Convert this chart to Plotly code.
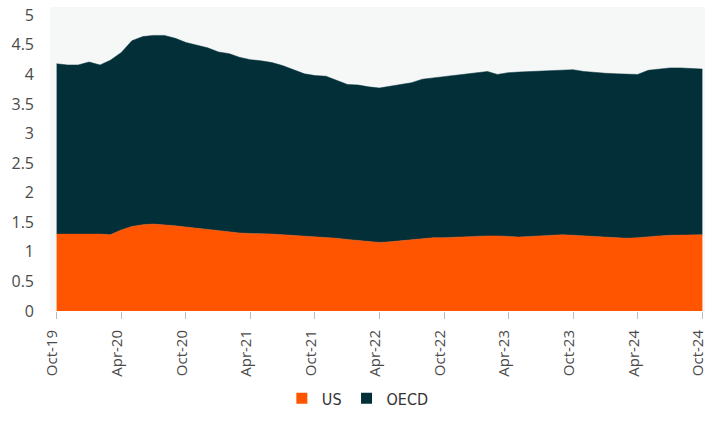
import pandas as pd
import plotly.graph_objects as go

months = pd.date_range("2019-10-01", "2024-10-01", freq="MS").strftime("%Y-%m-%d").tolist()

us = [1.30, 1.30, 1.30, 1.31, 1.30, 1.29, 1.37, 1.43, 1.46, 1.47,
      1.46, 1.44, 1.42, 1.40, 1.38, 1.35, 1.33, 1.32, 1.31, 1.31,
      1.30, 1.29, 1.28, 1.26, 1.25, 1.25, 1.23, 1.21, 1.19, 1.17,
      1.16, 1.17, 1.19, 1.21, 1.23, 1.24, 1.24, 1.25, 1.26, 1.27,
      1.27, 1.27, 1.26, 1.25, 1.26, 1.27, 1.28, 1.29, 1.28, 1.27,
      1.26, 1.25, 1.24, 1.23, 1.24, 1.26, 1.27, 1.28, 1.28, 1.29,
      1.29]

total = [4.18, 4.16, 4.16, 4.21, 4.16, 4.24, 4.37, 4.57, 4.64, 4.66,
         4.66, 4.61, 4.54, 4.49, 4.45, 4.38, 4.35, 4.29, 4.25, 4.23,
         4.20, 4.15, 4.08, 4.01, 3.98, 3.97, 3.90, 3.83, 3.82, 3.79,
         3.77, 3.80, 3.82, 3.86, 3.92, 3.94, 3.96, 3.98, 4.00, 4.03,
         4.05, 4.00, 4.03, 4.04, 4.05, 4.06, 4.07, 4.08, 4.08, 4.05,
         4.03, 4.02, 4.01, 4.00, 4.00, 4.07, 4.09, 4.11, 4.11, 4.10,
         4.09]

oecd = [round(t - u, 2) for t, u in zip(total, us)]

series_names = ["US", "OECD"]
US_COLOR = "#FF5500"
OECD_COLOR = "#032F38"

fig = go.Figure()
fig.add_trace(go.Scatter(
    x=months, y=us, name="US", stackgroup="one", mode="lines",
    line=dict(width=0.5, color=US_COLOR), fillcolor=US_COLOR, showlegend=False,
    hoverinfo="skip",
))
fig.add_trace(go.Scatter(
    x=months, y=oecd, name="OECD", stackgroup="one", mode="lines",
    line=dict(width=0.5, color=OECD_COLOR), fillcolor=OECD_COLOR, showlegend=False,
    hoverinfo="skip",
))
# legend entries with square swatches
for name, col in zip(series_names, [US_COLOR, OECD_COLOR]):
    fig.add_trace(go.Scatter(
        x=[None], y=[None], name=name, mode="markers",
        marker=dict(symbol="square", size=11, color=col),
    ))

fig.update_layout(
    width=710, height=421,
    margin=dict(l=50, r=5, t=7, b=101),
    paper_bgcolor="white",
    plot_bgcolor="#F6F8F8",
    font=dict(family="Open Sans, Lato, sans-serif", size=15, color="#4a4a4a"),
    showlegend=True,
    hovermode=False,
    legend=dict(
        orientation="h", x=0.47, xanchor="center", y=-0.2875, yanchor="middle",
        traceorder="normal",
        font=dict(family="Liberation Sans Narrow, DejaVu Sans Condensed, sans-serif", size=16, color="#333"),
        itemwidth=30,
    ),
    xaxis=dict(
        type="date",
        range=["2019-09-12 07:00", "2024-10-08 10:00"],
        tick0="2019-10-01", dtick="M6", tickformat="%b-%y",
        tickangle=-90, ticks="outside", ticklen=7, tickcolor="#bbbbbb",
        showgrid=False, zeroline=False, showline=False,
        tickfont=dict(size=15, color="#4a4a4a"),
        ticklabeloverflow="allow", automargin=False, ticklabelstandoff=5,
        ticklabelshift=-4,
    ),
    yaxis=dict(
        range=[0, 5.14], tick0=0, dtick=0.5,
        showgrid=False, zeroline=False, showline=False,
        ticks="", ticklabelstandoff=15, automargin=False,
        ticklabeloverflow="allow",
        tickfont=dict(size=16, color="#4a4a4a"),
    ),
)

# remove the browser's default 8px body margin so the 710x421 figure fills the window exactly
fig.write_html(
    "out.html",
    config={"displayModeBar": False},
    post_script="document.body.style.margin='0';document.body.style.overflow='hidden';",
)
